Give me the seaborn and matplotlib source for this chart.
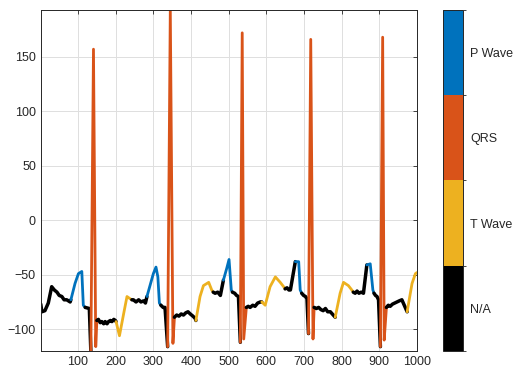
import matplotlib
matplotlib.use("Agg")
import matplotlib.pyplot as plt
import matplotlib.colors as mcolors
import numpy as np
import pandas as pd
import seaborn as sns

# === Dati (campione, ampiezza, onda) ===
sample = [1, 4, 12, 21, 30, 37, 44, 50, 57, 63, 70, 79,
          81, 92, 101, 110, 114,
          119, 130,
          134, 141, 147,
          150, 154, 159, 163, 168, 172, 177, 181, 186, 190, 195, 199,
          201, 210, 221, 230, 238,
          243, 247, 254, 261, 267, 274, 279,
          283, 300, 307, 312, 316,
          320, 326, 331,
          338, 345, 352,
          356, 362, 368, 374, 380, 386, 392, 398, 405, 411,
          413, 424, 433, 447, 455,
          459, 464, 471, 478,
          486, 495, 501, 507,
          510, 516, 521, 526,
          531, 536, 540,
          547, 552, 557, 564, 570, 577, 584,
          588, 597, 610, 624, 637, 646,
          650, 655, 660, 664,
          677, 686, 690,
          694, 699, 704, 708,
          712, 718, 724,
          727, 733, 739, 745, 751, 757, 763, 770,
          783, 796, 805, 818, 827,
          831, 836, 841, 846, 852, 858,
          867, 876, 883,
          886, 890, 894, 898,
          903, 909, 913,
          919, 924, 929, 935, 941, 947, 953, 960,
          974, 987, 996, 1000]
amplitude = [-77, -84, -83, -76, -61, -64, -66, -69, -70, -73, -73, -75,
             -73, -58, -49, -47, -78,
             -80, -81,
             -120, 157, -116,
             -92, -91, -94, -93, -95, -93, -95, -93, -92, -93, -91, -92,
             -93, -106, -86, -70, -72,
             -73, -73, -75, -73, -75, -74, -76,
             -70, -49, -43, -52, -76,
             -78, -80, -80,
             -116, 193, -113,
             -89, -87, -88, -86, -87, -85, -84, -86, -88, -90,
             -92, -70, -60, -57, -64,
             -66, -67, -66, -69,
             -55, -44, -36, -64,
             -66, -67, -69, -70,
             -112, 172, -109,
             -80, -79, -80, -78, -79, -76, -75,
             -75, -78, -61, -52, -57, -61,
             -63, -62, -64, -64,
             -38, -38, -64,
             -67, -69, -70, -72,
             -104, 166, -109,
             -80, -81, -80, -82, -83, -81, -84, -84,
             -89, -67, -57, -60, -64,
             -66, -67, -65, -67, -66, -67,
             -41, -40, -64,
             -67, -69, -70, -73,
             -116, 168, -110,
             -80, -78, -79, -77, -76, -75, -74, -73,
             -84, -58, -49, -48]
wave = (["N/A"] * 12 + ["P Wave"] * 5 + ["N/A"] * 2 + ["QRS"] * 3 +
        ["N/A"] * 12 + ["T Wave"] * 5 + ["N/A"] * 7 + ["P Wave"] * 5 +
        ["N/A"] * 3 + ["QRS"] * 3 + ["N/A"] * 10 + ["T Wave"] * 5 +
        ["N/A"] * 4 + ["P Wave"] * 4 + ["N/A"] * 4 + ["QRS"] * 3 +
        ["N/A"] * 7 + ["T Wave"] * 6 + ["N/A"] * 4 + ["P Wave"] * 3 +
        ["N/A"] * 4 + ["QRS"] * 3 + ["N/A"] * 8 + ["T Wave"] * 5 +
        ["N/A"] * 6 + ["P Wave"] * 3 + ["N/A"] * 4 + ["QRS"] * 3 +
        ["N/A"] * 8 + ["T Wave"] * 4)

wave_names = ["N/A", "T Wave", "QRS", "P Wave"]
wave_colors = ["#000000", "#EDB120", "#D95319", "#0072BD"]
x_ticks = [100, 200, 300, 400, 500, 600, 700, 800, 900, 1000]
y_ticks = [-100, -50, 0, 50, 100, 150]

df = pd.DataFrame({"sample": sample, "amp": amplitude, "wave": wave})
# ogni tratto continuo ha un id, e si collega al primo punto del tratto seguente
df["run"] = (df["wave"] != df["wave"].shift()).cumsum()

sns.set_style("white")
plt.rcParams["font.family"] = ["Liberation Sans", "DejaVu Sans"]

fig = plt.figure(figsize=(5.16, 3.76), dpi=100)
ax = fig.add_axes([0.079, 0.0665, 0.729, 0.907])
cax = fig.add_axes([0.8585, 0.0665, 0.0388, 0.907])

color_of = dict(zip(wave_names, wave_colors))
runs = list(df.groupby("run"))
for i, (rid, seg) in enumerate(runs):
    if i + 1 < len(runs):
        seg = pd.concat([seg, runs[i + 1][1].iloc[[0]]])
    name = seg["wave"].iloc[0]
    # il tratto N/A è rumoroso nell'originale: linea un po' più spessa
    sns.lineplot(x=seg["sample"].values, y=seg["amp"].values, ax=ax, sort=False,
                 estimator=None, color=color_of[name],
                 lw=2.5 if name == "N/A" else 2.0)

ax.set_xlim(1, 1000)
ax.set_ylim(-120, 193)
ax.set_xticks(x_ticks)
ax.set_yticks(y_ticks)
ax.grid(True, color="#dfdfdf", lw=0.7)
ax.set_axisbelow(True)
ax.tick_params(direction="in", length=3, top=True, right=True, labelsize=9,
               colors="#262626", width=0.6)
for s in ax.spines.values():
    s.set_color("#262626")
    s.set_linewidth(0.7)

cmap = mcolors.ListedColormap(wave_colors)
norm = mcolors.BoundaryNorm([0, 1, 2, 3, 4], 4)
cb = fig.colorbar(plt.cm.ScalarMappable(norm=norm, cmap=cmap), cax=cax,
                  ticks=[0.5, 1.5, 2.5, 3.5])
cb.set_ticklabels(wave_names)
cb.ax.tick_params(length=0, labelsize=9, colors="#262626", pad=5)
cb.outline.set_linewidth(0.7)
cb.outline.set_edgecolor("#262626")

fig.savefig("out.png", dpi=100)
